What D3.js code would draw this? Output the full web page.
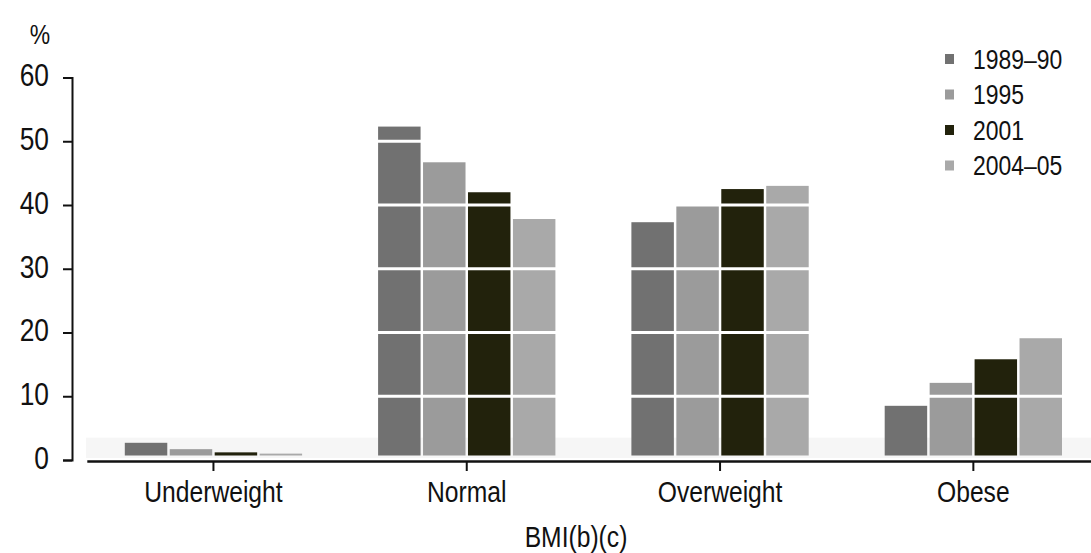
<!DOCTYPE html>
<html>
<head>
<meta charset="utf-8">
<script src="https://cdn.jsdelivr.net/npm/d3@7"></script>
<style>
  html, body { margin: 0; padding: 0; background: #fff; }
  svg { display: block; }
  text { font-family: "Liberation Sans", Arial, sans-serif; fill: #111; }
</style>
</head>
<body>
<svg id="chart" width="1091" height="553"></svg>
<script>
// BMI distribution by survey year (%)
const categories = ["Underweight", "Normal", "Overweight", "Obese"];
const seriesNames = ["1989\u201390", "1995", "2001", "2004\u201305"];
const values1989 = [2.7, 52.3, 37.3, 8.5];
const values1995 = [1.7, 46.7, 39.9, 12.1];
const values2001 = [1.2, 42.0, 42.5, 15.8];
const values2004 = [1.0, 37.8, 43.0, 19.1];
const yTicks = [0, 10, 20, 30, 40, 50, 60];
const yUnit = "%";
const xTitle = "BMI(b)(c)";

const seriesValues = [values1989, values1995, values2001, values2004];
const colors = ["#717171", "#9b9b9b", "#22220c", "#a9a9a9"];

// narrow typeface look: horizontally condensed glyphs
const SQUEEZE = 0.85;

const svg = d3.select("#chart");

const y = d3.scaleLinear().domain([0, 60]).range([460, 77.5]);
const x = d3.scaleBand().domain(categories).range([86.8, 1100])
  .paddingInner(0.3).paddingOuter(0.15);
const xs = d3.scaleBand().domain(seriesNames).range([0, x.bandwidth()]).paddingInner(0.055);

// faint strip along the baseline
svg.append("rect")
  .attr("x", 86).attr("y", y(3.5))
  .attr("width", 1005).attr("height", y(0) - 2 - y(3.5))
  .attr("fill", "#f6f6f6");

// bars
const rows = categories.map((c, i) => ({ cat: c, vals: seriesNames.map((s, j) => ({ s, j, v: seriesValues[j][i] })) }));
const groups = svg.append("g").selectAll("g").data(rows).join("g")
  .attr("transform", d => `translate(${x(d.cat)},0)`);
groups.selectAll("rect").data(d => d.vals).join("rect")
  .attr("x", d => xs(d.s))
  .attr("width", xs.bandwidth())
  .attr("y", d => y(d.v))
  .attr("height", d => Math.max(0, y(0) - 4.5 - y(d.v)))
  .attr("fill", d => colors[d.j]);

// white grid lines cut through the bars
svg.append("g").selectAll("line").data(yTicks.filter(t => t > 0 && t < 60)).join("line")
  .attr("x1", 86).attr("x2", 1091)
  .attr("y1", d => y(d)).attr("y2", d => y(d))
  .attr("stroke", "#fff").attr("stroke-width", 3);

// y axis
const yAxis = svg.append("g").attr("transform", "translate(72,0)")
  .call(d3.axisLeft(y).tickValues(yTicks).tickSize(9).tickFormat(d3.format("d")));
yAxis.select(".domain").attr("stroke", "#111").attr("stroke-width", 2).attr("fill", "none");
yAxis.selectAll(".tick line").attr("stroke", "#111").attr("stroke-width", 2);
yAxis.selectAll(".tick text")
  .attr("font-size", 31).attr("x", -23 / SQUEEZE).attr("dy", "0.27em")
  .attr("transform", `scale(${SQUEEZE},1)`);

// x axis
const xAxis = svg.append("g").attr("transform", `translate(0,${y(0) + 1})`)
  .call(d3.axisBottom(x).tickSize(10).tickSizeOuter(0).tickPadding(10));
xAxis.select(".domain").attr("stroke", "#111").attr("stroke-width", 2.5).attr("fill", "none");
xAxis.selectAll(".tick line").attr("stroke", "#111").attr("stroke-width", 2);
xAxis.selectAll(".tick text").attr("font-size", 29).attr("dy", "0.74em")
  .attr("transform", `scale(${SQUEEZE},1)`);

svg.selectAll(".tick text").attr("fill", "#111");
svg.selectAll("g").attr("font-family", null);

// condensed free-standing label
function label(txt, px, py, size, anchor) {
  svg.append("text")
    .attr("transform", `translate(${px},${py}) scale(${SQUEEZE},1)`)
    .attr("text-anchor", anchor).attr("font-size", size).text(txt);
}

// unit label and axis title
label(yUnit, 40, 44, 27, "middle");
label(xTitle, 576, 547, 29, "middle");

// legend
const legend = svg.append("g").selectAll("g").data(seriesNames).join("g")
  .attr("transform", (d, i) => `translate(945,${59 + i * 35.5})`);
legend.append("rect").attr("x", 0).attr("y", -5).attr("width", 9).attr("height", 10)
  .attr("fill", (d, i) => colors[i]);
legend.append("text")
  .attr("transform", `translate(28,0) scale(${SQUEEZE},1)`)
  .attr("dy", "0.36em").attr("font-size", 27).text(d => d);
</script>
</body>
</html>
